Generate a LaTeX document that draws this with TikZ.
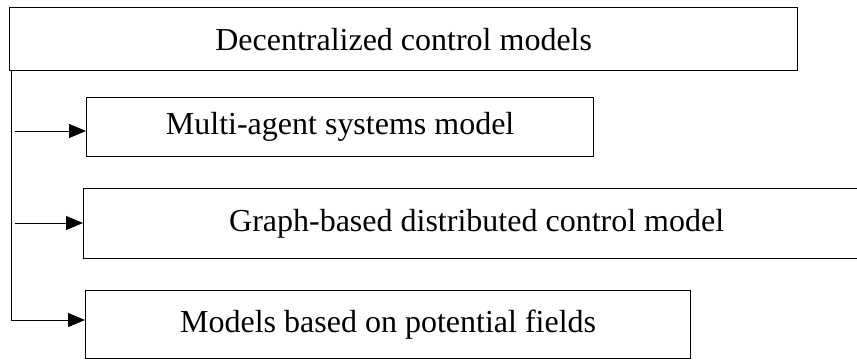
\documentclass[tikz,border=0pt]{standalone}
\usepackage{fontspec}
\setmainfont{Liberation Serif}
\usetikzlibrary{arrows.meta}
\begin{document}
\begin{tikzpicture}[x=1pt,y=-1pt,
  box/.style={draw=black,line width=1.3pt,inner sep=0pt,anchor=north west,font=\fontsize{32}{38}\selectfont},
  conn/.style={line width=0.8pt},
  arr/.style={conn,-{Triangle[length=17pt,width=14pt]}}]
\useasboundingbox (0,0) rectangle (857,359);
\node[box,minimum width=788pt,minimum height=63pt] (top) at (9,7) {Decentralized control models};
\node[box,minimum width=507pt,minimum height=59pt] (b1) at (86,97) {Multi-agent systems model};
\node[box,minimum width=786pt,minimum height=70pt] (b2) at (83,188) {Graph-based distributed control model};
\node[box,minimum width=605pt,minimum height=68pt] (b3) at (85,290) {Models based on potential fields};
\coordinate (v0) at (11,70);
\coordinate (v1) at (11,131);
\coordinate (v2) at (11,223);
\coordinate (v3) at (11,320);
\draw[conn] (v0) -- (v3);
\draw[arr] (v1) ++(4,0) -- (b1.west |- v1);
\draw[arr] (v2) ++(4,0) -- (b2.west |- v2);
\draw[arr] (v3) -- (b3.west |- v3);
\end{tikzpicture}
\end{document}
